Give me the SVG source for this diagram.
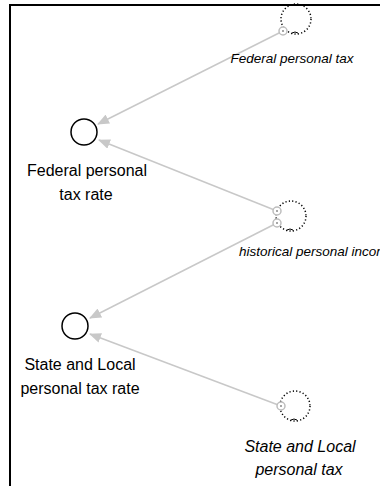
<svg xmlns="http://www.w3.org/2000/svg" width="380" height="486" viewBox="0 0 380 486">
  <defs>
    <marker id="arrow" markerWidth="12" markerHeight="10" refX="11" refY="5" orient="auto" markerUnits="userSpaceOnUse">
      <path d="M0,0 L12,5 L0,10 Z" fill="#c8c8c8"/>
    </marker>
    <style>
      .stock { fill: #ffffff; stroke: #000000; stroke-width: 1.5; }
      .cloud { fill: none; stroke: #000000; stroke-width: 1.5; stroke-dasharray: 1.2 2.2; }
      .tick { fill: none; stroke: #000000; stroke-width: 1; }
      .port { fill: #ffffff; stroke: #bdbdbd; stroke-width: 1.5; }
      .dot { fill: #8a8a8a; }
      .link { fill: none; stroke: #c8c8c8; stroke-width: 1.5; marker-end: url(#arrow); }
      .label { font-family: "Liberation Sans", Arial, sans-serif; font-size: 16px; fill: #000000; text-anchor: middle; }
      .ilabel { font-family: "Liberation Sans", Arial, sans-serif; font-size: 13.5px; font-style: italic; fill: #000000; text-anchor: middle; }
      .ilabel-lg { font-family: "Liberation Sans", Arial, sans-serif; font-size: 16px; font-style: italic; fill: #000000; text-anchor: middle; }
      .frame { fill: none; stroke: #000000; stroke-width: 2; }
    </style>
  </defs>

  <rect width="380" height="486" fill="#ffffff"/>

  <!-- connectors -->
  <g id="connectors">
    <path class="link" d="M283,31 L98,124"/>
    <path class="link" d="M277,211 L99,140"/>
    <path class="link" d="M277,223 L90,318"/>
    <path class="link" d="M281,406 L90,334"/>
  </g>

  <!-- source nodes -->
  <g id="federal-personal-tax">
    <circle class="cloud" cx="296" cy="19" r="15"/>
    <path class="tick" d="M292,33 q3,-2 6,0"/>
    <circle class="port" cx="283" cy="31" r="4"/>
    <circle class="dot" cx="283" cy="31" r="1"/>
    <text class="ilabel" x="292" y="63">Federal personal tax</text>
  </g>

  <g id="historical-personal-income">
    <circle class="cloud" cx="291" cy="216" r="15"/>
    <path class="tick" d="M287,230 q3,-2 6,0"/>
    <circle class="port" cx="277" cy="211" r="4"/>
    <circle class="dot" cx="277" cy="211" r="1"/>
    <circle class="port" cx="277" cy="223" r="4"/>
    <circle class="dot" cx="277" cy="223" r="1"/>
    <text class="ilabel" x="317" y="256">historical personal income</text>
  </g>

  <g id="state-local-personal-tax">
    <circle class="cloud" cx="295" cy="406" r="15"/>
    <path class="tick" d="M291,420 q3,-2 6,0"/>
    <circle class="port" cx="281" cy="406" r="4"/>
    <circle class="dot" cx="281" cy="406" r="1"/>
    <text class="ilabel-lg" x="300" y="452">State and Local</text>
    <text class="ilabel-lg" x="299" y="475">personal tax</text>
  </g>

  <!-- rate nodes -->
  <g id="federal-personal-tax-rate">
    <circle class="stock" cx="84" cy="132" r="13"/>
    <text class="label" x="87" y="176">Federal personal</text>
    <text class="label" x="86" y="200">tax rate</text>
  </g>

  <g id="state-local-personal-tax-rate">
    <circle class="stock" cx="75" cy="326" r="13"/>
    <text class="label" x="80" y="370">State and Local</text>
    <text class="label" x="80" y="394">personal tax rate</text>
  </g>

  <!-- frame -->
  <path class="frame" d="M380,5 L10,5 L10,486"/>
</svg>
